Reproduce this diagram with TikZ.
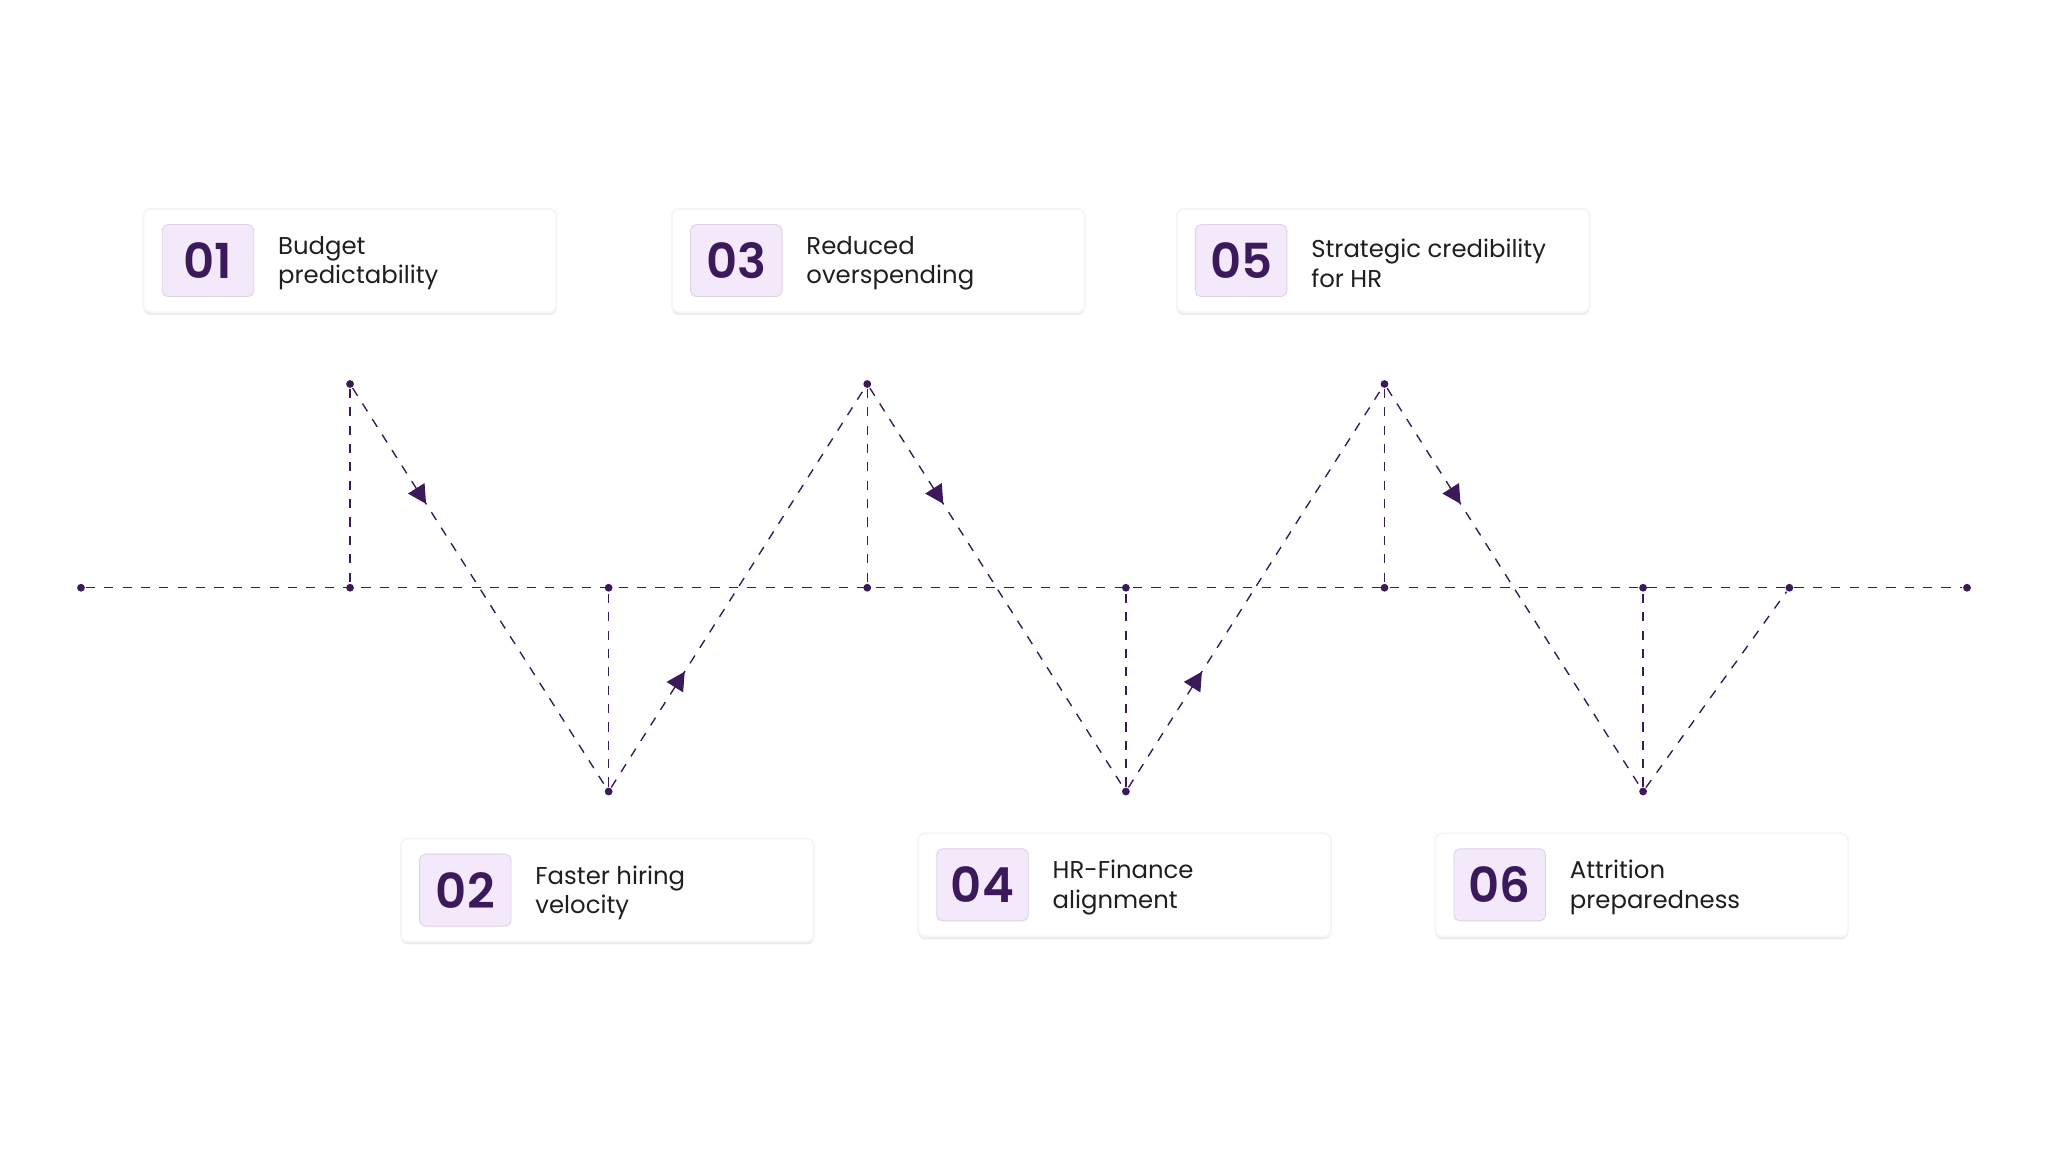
\documentclass[tikz,border=0pt]{standalone}
\usepackage{fontspec}
\setmainfont{Poppins}
\newfontfamily\numfont{Poppins}[UprightFont=* SemiBold]
\usetikzlibrary{arrows.meta, positioning, decorations.markings, shadows}
\definecolor{ink}{HTML}{3B1A5C}
\definecolor{tagfill}{HTML}{F3E9FB}

\begin{document}
\begin{tikzpicture}[x=0.01cm, y=-0.01cm]

\tikzset{
  card/.style={rectangle, draw=gray!8, fill=white, rounded corners=1.5pt, minimum width=3.16cm, minimum height=0.79cm, inner sep=0pt,
    drop shadow={shadow xshift=0pt, shadow yshift=-0.6pt, opacity=0.08, fill=black}},
  tag/.style={rectangle, fill=tagfill, draw=tagfill!80!gray, line width=0.2pt, rounded corners=1.2pt, minimum width=0.7cm, minimum height=0.55cm, inner sep=0pt, font=\numfont\fontsize{10.5}{11}\selectfont, text=ink},
  label/.style={anchor=west, align=left, inner sep=0pt, font=\fontsize{5.3}{6.4}\selectfont, text=black!88},
  dot/.style={circle, fill=ink, inner sep=0pt, minimum size=1.7pt},
  guide/.style={dashed, dash pattern=on 2pt off 2pt, ink, line width=0.3pt},
  flow/.style={guide, postaction={decorate}, decoration={markings, mark=at position 0.29 with {\arrow{Triangle[length=4pt, width=4.2pt]}}}}
}

\useasboundingbox (0,0) rectangle (1568,882);

% --- Punkte ---
\node[dot] (b0) at (62,450) {};
\node[dot] (b1) at (268,450) {};
\node[dot] (b2) at (466,450) {};
\node[dot] (b3) at (664,450) {};
\node[dot] (b4) at (862,450) {};
\node[dot] (b5) at (1060,450) {};
\node[dot] (b6) at (1258,450) {};
\node[dot] (b7) at (1370,450) {};
\node[dot] (b8) at (1506,450) {};

\node[dot] (t1) at (268,294) {};
\node[dot] (t3) at (664,294) {};
\node[dot] (t5) at (1060,294) {};
\node[dot] (u2) at (466,606) {};
\node[dot] (u4) at (862,606) {};
\node[dot] (u6) at (1258,606) {};

% --- Linien ---
\draw[guide] (b0) -- (b8);
\foreach \a/\b in {t1/b1, t3/b3, t5/b5, u2/b2, u4/b4, u6/b6}
  \draw[guide] (\a) -- (\b);

\draw[flow] (t1) -- (u2);
\draw[flow] (u2) -- (t3);
\draw[flow] (t3) -- (u4);
\draw[flow] (u4) -- (t5);
\draw[flow] (t5) -- (u6);
\draw[guide] (u6) -- (b7);

% --- Karten ---
\node[card] (c1) at (268,199.5) {};
\node[card] (c3) at (672.5,199.5) {};
\node[card] (c5) at (1059,199.5) {};
\node[card] (c2) at (465,681.5) {};
\node[card] (c4) at (861,677.5) {};
\node[card] (c6) at (1257,677.5) {};

\foreach \c/\n/\t in {c1/01/{Budget\\predictability}, c3/03/{Reduced\\overspending}, c5/05/{Strategic credibility\\for HR},
                      c2/02/{Faster hiring\\velocity}, c4/04/{HR-Finance\\alignment}, c6/06/{Attrition\\preparedness}} {
  \node[tag] (\c n) at ([xshift=0.5cm]\c.west) {\n};
  \node[label] (\c t) at ([xshift=1.03cm, yshift=-0.02cm]\c.west) {\t};
}

\end{tikzpicture}
\end{document}
